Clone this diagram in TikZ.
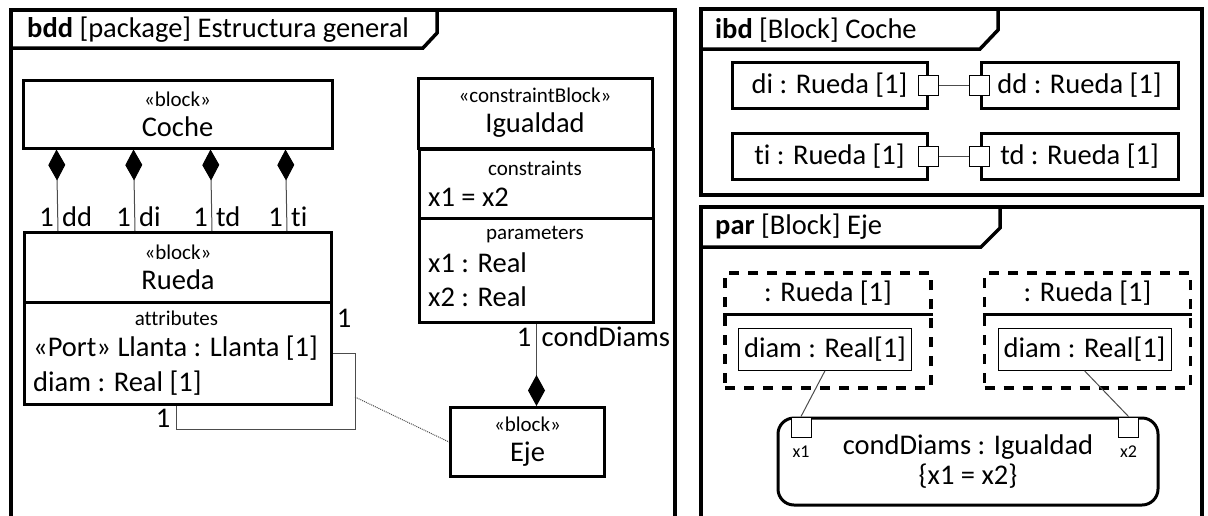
\documentclass[tikz,border=0pt]{standalone}
\usepackage{fontspec}
\setmainfont{Carlito}[Ligatures=NoCommon]
\usetikzlibrary{positioning, arrows.meta}

\newcommand\bigtxt{\fontsize{28.5}{30}\selectfont}
\newcommand\smtxt{\fontsize{21}{23}\selectfont}
\newcommand\tinytxt{\fontsize{18}{20}\selectfont}
\newcommand\stereo[1]{{\smtxt «#1»}}

\begin{document}
\begin{tikzpicture}[
    x=1pt, y=-1pt,
    frame/.style={line width=3.5pt, line join=miter},
    blk/.style={draw, line width=3pt, align=center, inner sep=0pt, font=\bigtxt},
    part/.style={draw, line width=3pt, font=\bigtxt, minimum height=46},
    inner/.style={draw, line width=1pt, font=\bigtxt, minimum height=42, minimum width=173},
    port/.style={draw, line width=1pt, fill=white, minimum size=20, inner sep=0pt},
    link/.style={draw=black!70, line width=1pt},
    comp/.style={link, -{Diamond[length=31pt, width=17pt, color=black, fill=black]}},
    txt/.style={font=\bigtxt, inner sep=0pt},
    smalltxt/.style={font=\smtxt, inner sep=0pt}
  ]
  \useasboundingbox (0,0) rectangle (1208,515);

  % frames
  \draw[frame] (11,520) -- (11,10) -- (675,10) -- (675,520);
  \draw[frame] (11,48) -- (423,48) -- (437,33) -- (437,10);
  \node[txt, anchor=west] (bddtitle) at (27,30) {\textbf{bdd} [package] Estructura general};
  \draw[frame] (701,195) rectangle (1202,9);
  \draw[frame] (701,49) -- (980,49) -- (998,30) -- (998,9);
  \node[txt, anchor=west] (ibdtitle) at (715,30) {\textbf{ibd} [Block] Coche};
  \draw[frame] (701,520) -- (701,207) -- (1202,207) -- (1202,520);
  \draw[frame] (701,247) -- (981,247) -- (1000,228) -- (1000,207);
  \node[txt, anchor=west] (partitle) at (715,227) {\textbf{par} [Block] Eje};

  % bdd
  \node[blk, minimum width=309, minimum height=68] (coche) at (177.5,114) {\stereo{block}\\Coche};
  \node[blk, minimum width=307, minimum height=70, anchor=north west] (rueda) at (23,231) {\stereo{block}\\Rueda};
  \node[blk, minimum width=307, minimum height=102, anchor=north west] (ruedaatt) at (23,301) {};
  \node[smalltxt] (attlbl) at (176.5,318) {attributes};
  \node[txt, anchor=west] (attport) at (33,348) {«Port» Llanta : Llanta [1]};
  \node[txt, anchor=west] (attdiam) at (33,383) {diam : Real [1]};
  \foreach \dx/\role in {35/dd, 112/di, 189/td, 264/ti}{
    \draw[comp] ([xshift=\dx pt]rueda.north west) -- ([xshift=\dx pt]coche.south west);
    \node[txt, anchor=base east] (one\role) at ([xshift=\dx pt-4pt, yshift=5pt]rueda.north west) {1};
    \node[txt, anchor=base west] (lbl\role) at ([xshift=\dx pt+4pt, yshift=5pt]rueda.north west) {\role};
  }

  \node[blk, minimum width=234, minimum height=70] (igualdad) at (535,113) {\stereo{constraintBlock}\\Igualdad};
  \node[blk, minimum width=234, minimum height=69, anchor=north west] (igconstr) at (418,148) {};
  \node[smalltxt] (constrlbl) at (535,168) {constraints};
  \node[txt, anchor=west] (constreq) at (428,197) {x1 = x2};
  \node[blk, minimum width=234, minimum height=104, anchor=north west] (igparam) at (418,217) {};
  \node[smalltxt] (paramlbl) at (535,235) {parameters};
  \node[txt, anchor=west] (paramx1) at (428,263) {x1 : Real};
  \node[txt, anchor=west] (paramx2) at (428,297) {x2 : Real};

  \node[blk, minimum width=154, minimum height=69, anchor=north west] (eje) at (449,406) {\stereo{block}\\Eje};
  \draw[comp] (igparam.south) -- (igparam.south |- eje.north);
  \node[txt, anchor=base east] (onecond) at ([xshift=-5pt, yshift=-22pt]igparam.south) {1};
  \node[txt, anchor=base west] (lblcond) at ([xshift=5pt, yshift=-22pt]igparam.south) {condDiams};

  \coordinate (selfcorner) at (355,429);
  \coordinate (selfmid) at (355,397);
  \draw[link] (ruedaatt.east) -| (selfcorner) -| ([xshift=153pt]ruedaatt.south west);
  \draw[link, densely dotted] (selfmid) -- (eje.west);
  \node[txt] (oneself1) at (344,318) {1};
  \node[txt] (oneself2) at (163,418) {1};

  % ibd
  \foreach \lft/\rgt/\yy in {di/dd/85, ti/td/156.5}{
    \node[part, minimum width=195] (\lft) at (829.5,\yy) {\lft\ : Rueda [1]};
    \node[part, minimum width=197] (\rgt) at (1079.5,\yy) {\rgt\ : Rueda [1]};
    \node[port] (p\lft) at (\lft.east) {};
    \node[port] (p\rgt) at (\rgt.west) {};
    \draw[link] (p\lft) -- (p\rgt);
  }

  % par
  \foreach \nm/\cx in {A/828, B/1087.5}{
    \node[draw, line width=3.5pt, dash pattern=on 10pt off 9pt, minimum width=206, minimum height=115] (rueda\nm) at (\cx,330.5) {};
    \draw[line width=3pt] ([yshift=-43pt]rueda\nm.north west) -- ([yshift=-43pt]rueda\nm.north east);
    \node[txt] (rlbl\nm) at ([yshift=-22pt]rueda\nm.north) {: Rueda [1]};
    \node[inner] (diam\nm) at ([xshift=-3pt, yshift=-78pt]rueda\nm.north) {diam : Real[1]};
  }
  \node[draw, line width=3pt, rounded corners=16pt, minimum width=380, minimum height=87, align=center, font=\bigtxt] (conddiams) at (968,461.5) {condDiams : Igualdad\\\{x1 = x2\}};
  \node[port, anchor=north] (px1) at ([xshift=24.5pt]conddiams.north west) {};
  \node[port, anchor=north] (px2) at ([xshift=-31pt]conddiams.north east) {};
  \node[font=\tinytxt, inner sep=0pt] (lx1) at ([yshift=-14pt]px1.south) {x1};
  \node[font=\tinytxt, inner sep=0pt] (lx2) at ([yshift=-14pt]px2.south) {x2};
  \draw[link] (diamA.south) -- (px1.north);
  \draw[link] (diamB.south) -- (px2.north);
\end{tikzpicture}
\end{document}
